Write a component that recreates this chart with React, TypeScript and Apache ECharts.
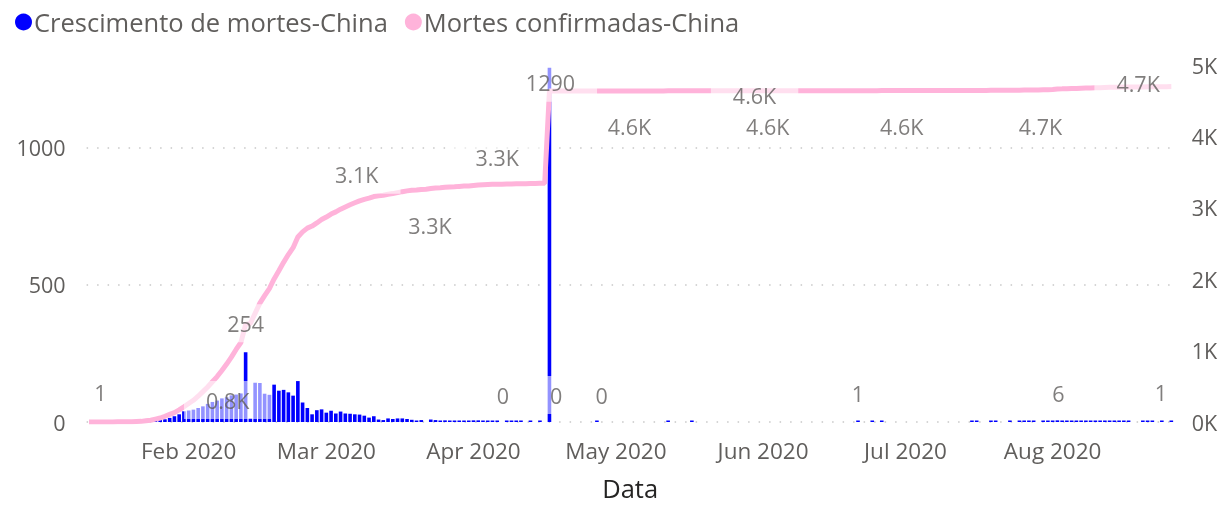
import React, { useEffect, useRef } from "react";
import * as echarts from "echarts";

// ---------- data ----------
const START_DATE = "2020-01-11";
const MONTHS = ["Jan", "Feb", "Mar", "Apr", "May", "Jun", "Jul", "Aug", "Sep", "Oct", "Nov", "Dec"];
const SERIES_NAMES = ["Crescimento de mortes-China", "Mortes confirmadas-China"];

// daily growth of deaths (Jan 11 .. Aug 26, 2020)
const dailyJan = [0, 0, 1, 0, 0, 0, 1, 0, 1, 0, 3, 3, 8, 8, 5, 7, 10, 15, 21, 28, 39];
const dailyFeb = [42, 45, 51, 57, 66, 73, 78, 86, 90, 97, 100, 104, 254, 13, 143, 142, 103, 99, 136, 114, 117, 108, 96, 149, 71, 51, 28, 43, 46];
const dailyMar = [34, 41, 31, 38, 31, 30, 28, 27, 23, 16, 21, 9, 7, 13, 11, 13, 13, 11, 8, 3, 7, 0, 9, 7, 4, 6, 5, 3, 5, 4, 1];
const dailyApr = [6, 6, 4, 4, 3, 2, 0, 2, 2, 2, 1, 0, 3, 0, 2, 0, 1290, 0, 0, 0, 0, 0, 0, 0, 0, 0, 1, 0, 0, 0];
const dailyMay = [0, 0, 0, 0, 0, 0, 0, 0, 0, 0, 0, 1, 0, 0, 0, 0, 1, 0, 0, 0, 0, 0, 0, 0, 0, 0, 0, 0, 0, 0, 0];
const dailyJun = [0, 0, 0, 0, 0, 0, 0, 0, 0, 0, 0, 0, 0, 0, 0, 0, 0, 0, 0, 0, 1, 0, 0, 1, 0, 1, 0, 0, 0, 0];
const dailyJul = [0, 0, 0, 0, 0, 0, 0, 0, 0, 0, 0, 0, 0, 0, 1, 1, 0, 0, 1, 1, 0, 0, 1, 0, 1, 1, 1, 1, 0, 2, 2];
const dailyAug = [3, 6, 2, 3, 2, 1, 3, 2, 1, 2, 2, 3, 2, 1, 2, 1, 1, 0, 0, 1, 2, 1, 0, 1, 0, 1];

// confirmed deaths (cumulative)
const cumJan = [0, 0, 1, 1, 1, 1, 2, 2, 3, 3, 6, 9, 17, 25, 41, 56, 80, 106, 132, 170, 213];
const cumFeb = [259, 304, 361, 425, 490, 563, 636, 722, 811, 908, 1016, 1113, 1367, 1380, 1523, 1665, 1770, 1868, 2004, 2118, 2236, 2345, 2442, 2592, 2663, 2715, 2744, 2788, 2835];
const cumMar = [2870, 2912, 2943, 2981, 3012, 3042, 3070, 3097, 3119, 3136, 3158, 3169, 3176, 3189, 3199, 3213, 3226, 3237, 3245, 3248, 3255, 3261, 3270, 3277, 3281, 3287, 3292, 3295, 3300, 3304, 3305];
const cumApr = [3312, 3318, 3322, 3326, 3329, 3331, 3331, 3333, 3335, 3337, 3338, 3338, 3341, 3341, 3343, 3343, 4636, 4636, 4636, 4636, 4636, 4636, 4636, 4636, 4636, 4636, 4637, 4637, 4637, 4637];
const cumMay = [4637, 4637, 4637, 4637, 4637, 4637, 4637, 4637, 4637, 4637, 4637, 4638, 4638, 4638, 4638, 4638, 4639, 4639, 4639, 4639, 4639, 4639, 4639, 4639, 4639, 4639, 4639, 4639, 4639, 4639, 4639];
const cumJun = [4639, 4639, 4639, 4639, 4639, 4639, 4639, 4639, 4639, 4639, 4639, 4639, 4639, 4639, 4639, 4639, 4639, 4639, 4639, 4639, 4640, 4640, 4640, 4641, 4641, 4642, 4642, 4642, 4642, 4642];
const cumJul = [4642, 4642, 4642, 4642, 4642, 4642, 4642, 4642, 4642, 4642, 4642, 4642, 4642, 4642, 4643, 4644, 4644, 4644, 4645, 4646, 4646, 4646, 4647, 4647, 4648, 4649, 4650, 4651, 4651, 4653, 4655];
const cumAug = [4658, 4664, 4666, 4669, 4671, 4672, 4675, 4677, 4678, 4680, 4682, 4685, 4687, 4688, 4690, 4691, 4692, 4692, 4692, 4693, 4695, 4696, 4696, 4697, 4697, 4698];

// points that carry a data label
const BAR_LABEL_DATES = ["2020-01-13", "2020-02-13", "2020-04-07", "2020-04-17", "2020-04-18", "2020-04-28", "2020-06-21", "2020-08-02", "2020-08-24"];
const LINE_LABEL_DATES = ["2020-02-09", "2020-03-07", "2020-03-22", "2020-04-06", "2020-05-03", "2020-05-30", "2020-06-02", "2020-06-30", "2020-07-29", "2020-08-19"];

// ---------- style ----------
const BAR_LABEL_OFFSETS = [[2, -29], [0, -29], [1, -27], [1, 15], [2, -27], [0, -27], [0, -28], [1, -27], [-1, -29]];
const LINE_LABEL_OFFSETS = [[1, 36], [2, -28], [4, 36], [0, -27], [4, 36], [1, 5], [0, 36], [1, 36], [2, 37], [0, -3]];
const FONT = "'Segoe UI', 'Open Sans', sans-serif";
const BLUE = "#0000FF";
const PINK = "#FFB3DA";
const TEXT = "#605E5C";

export default function App() {
  const ref = useRef<HTMLDivElement>(null);

  useEffect(() => {
    const daily = [...dailyJan, ...dailyFeb, ...dailyMar, ...dailyApr, ...dailyMay, ...dailyJun, ...dailyJul, ...dailyAug];
    const cum = [...cumJan, ...cumFeb, ...cumMar, ...cumApr, ...cumMay, ...cumJun, ...cumJul, ...cumAug];
    const start = new Date(START_DATE + "T00:00:00Z").getTime();
    const dates = daily.map((_, i) => new Date(start + i * 86400000).toISOString().slice(0, 10));

    const labelStyle = {
      show: true,
      position: "inside",
      fontSize: 21.5,
      color: TEXT,
      fontFamily: FONT,
      backgroundColor: "rgba(255,255,255,0.72)",
      padding: [8, 22],
    };

    const barLabelData = dates.map((d, i) => {
      const k = BAR_LABEL_DATES.indexOf(d);
      return k < 0 ? "-" : { value: daily[i], label: { offset: BAR_LABEL_OFFSETS[k] } };
    });
    const lineLabelData = dates.map((d, i) => {
      const k = LINE_LABEL_DATES.indexOf(d);
      return k < 0 ? "-" : { value: cum[i], label: { offset: LINE_LABEL_OFFSETS[k] } };
    });

    const chart = echarts.init(ref.current!, null, { renderer: "svg" });
    chart.setOption({
      animation: false,
      textStyle: { fontFamily: FONT },
      legend: {
        data: SERIES_NAMES,
        left: 10,
        top: 4,
        icon: "circle",
        itemWidth: 17,
        itemHeight: 17,
        itemGap: 17,
        textStyle: { fontSize: 25.5, color: TEXT, fontFamily: FONT, padding: [0, 0, 0, -3] },
      },
      grid: { left: 86.6, right: 55.3, top: 65, bottom: 75 },
      xAxis: {
        type: "category",
        data: dates,
        boundaryGap: true,
        axisLine: { show: false },
        axisTick: { show: false },
        axisLabel: {
          interval: (_i: number, v: string) => v.endsWith("-01"),
          formatter: (v: string) => MONTHS[Number(v.slice(5, 7)) - 1] + " " + v.slice(0, 4),
          fontSize: 22.5,
          color: TEXT,
          margin: 17,
          fontFamily: FONT,
        },
        name: "Data",
        nameLocation: "middle",
        nameGap: 53,
        nameTextStyle: { fontSize: 25.5, color: "#252423", fontFamily: FONT },
      },
      yAxis: [
        {
          type: "value",
          min: 0,
          max: 1300,
          interval: 500,
          splitLine: { show: false },
          axisLine: { show: false },
          axisTick: { show: false },
          axisLabel: {
            showMaxLabel: false,
            formatter: (v: number) => String(v),
            fontSize: 21.5,
            color: TEXT,
            margin: 21,
            fontFamily: FONT,
          },
        },
        {
          type: "value",
          position: "right",
          min: 0,
          max: 5000,
          interval: 1000,
          splitLine: { show: false },
          axisLine: { show: false },
          axisTick: { show: false },
          axisLabel: {
            formatter: (v: number) => v / 1000 + "K",
            fontSize: 21.5,
            color: TEXT,
            margin: 18,
            fontFamily: FONT,
          },
        },
      ],
      series: [
        {
          name: SERIES_NAMES[0],
          type: "bar",
          yAxisIndex: 0,
          data: daily.map((v) => (v === 0 ? "-" : v)),
          itemStyle: { color: BLUE },
          barWidth: "76%",
          barMinHeight: 1.5,
          z: 2,
          markLine: {
            silent: true,
            symbol: "none",
            z: 1,
            label: { show: false },
            lineStyle: { color: "#C8C8C8", type: [1.5, 9], width: 1.5 },
            data: [{ yAxis: 0 }, { yAxis: 500 }, { yAxis: 1000 }],
          },
        },
        {
          name: SERIES_NAMES[1],
          type: "line",
          yAxisIndex: 1,
          data: cum,
          showSymbol: false,
          lineStyle: { color: PINK, width: 5 },
          itemStyle: { color: PINK },
          z: 3,
        },
        {
          type: "scatter",
          yAxisIndex: 0,
          data: barLabelData,
          symbolSize: 1,
          itemStyle: { color: "rgba(0,0,0,0)" },
          silent: true,
          z: 10,
          label: { ...labelStyle, formatter: (p: any) => String(p.value) },
        },
        {
          type: "scatter",
          yAxisIndex: 1,
          data: lineLabelData,
          symbolSize: 1,
          itemStyle: { color: "rgba(0,0,0,0)" },
          silent: true,
          z: 10,
          label: { ...labelStyle, formatter: (p: any) => (p.value / 1000).toFixed(1) + "K" },
        },
      ],
    });
    return () => chart.dispose();
  }, []);

  return <div ref={ref} style={{ position: "fixed", left: 0, top: 0, width: 1229, height: 506 }} />;
}
